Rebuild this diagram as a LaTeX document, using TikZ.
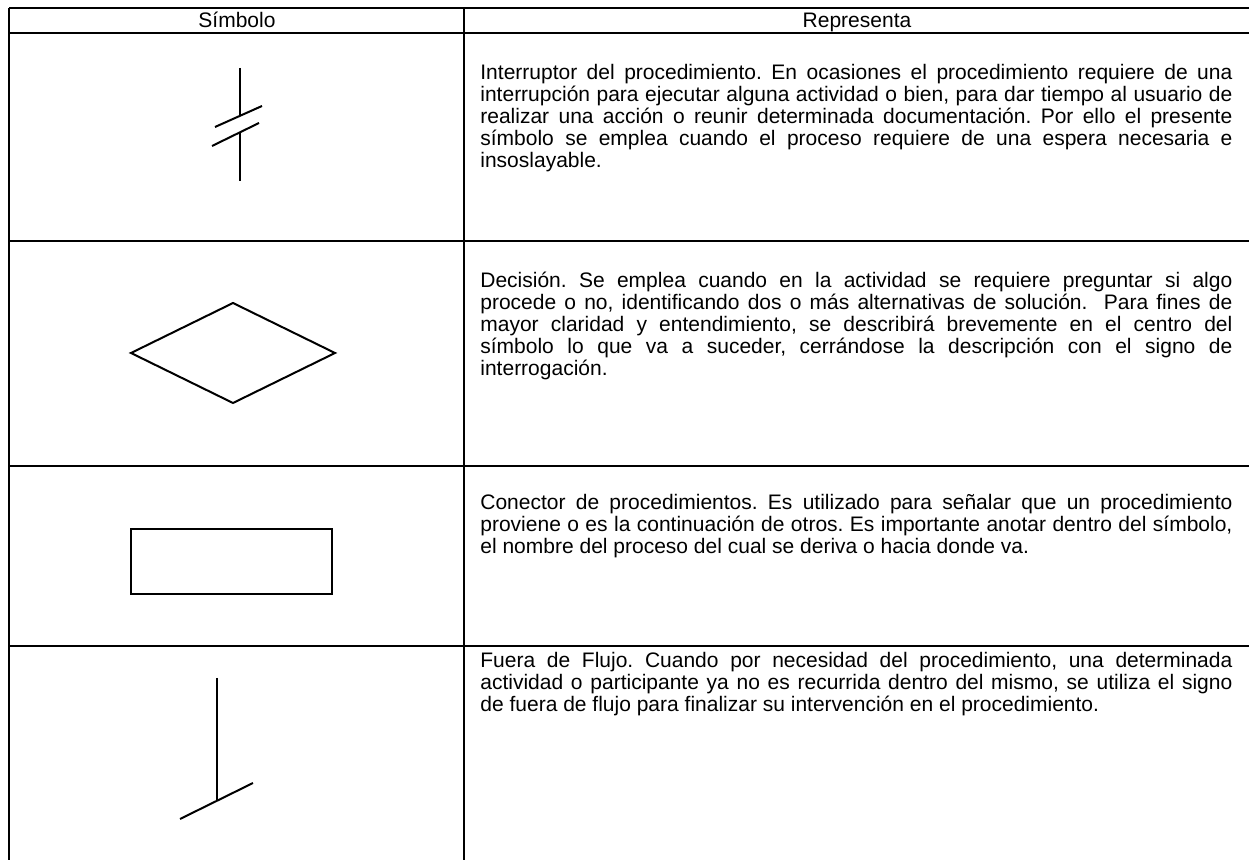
\documentclass[tikz,border=0pt]{standalone}
\usepackage{fontspec}
\setmainfont{Liberation Sans}
\frenchspacing
\tolerance=9999
\hyphenpenalty=10000

\tikzstyle{rule} = [line width=1pt]
\tikzstyle{symbolline} = [line width=1pt]
\tikzstyle{headlabel} = [anchor=base,inner sep=0pt,font=\fontsize{10.5}{11}\selectfont]
\tikzstyle{desc} = [anchor=base west,inner sep=0pt,text width=376pt,align=justify,
  font=\fontsize{10.5}{11}\selectfont]

\begin{document}
\begin{tikzpicture}[x=0.5pt,y=-0.5pt]
		\useasboundingbox (0,0) rectangle (1249,860);
		% table rules
		\draw[rule] (9,8) -- (1249,8);
		\draw[rule] (9,33) -- (1249,33);
		\draw[rule] (9,241) -- (1249,241);
		\draw[rule] (9,466) -- (1249,466);
		\draw[rule] (9,646) -- (1249,646);
		\draw[rule] (9,8) -- (9,860);
		\draw[rule] (464,8) -- (464,860);
		% header
		\node[headlabel] (hsym) at (237,28) {Símbolo};
		\node[headlabel] (hrep) at (857,28) {Representa};
		% interruptor
		\draw[symbolline] (240,68) -- (240,116);
		\draw[symbolline] (215,127) -- (262,106);
		\draw[symbolline] (212,146) -- (259,123);
		\draw[symbolline] (240,132) -- (240,181);
		% decision
		\draw[symbolline] (131,353) -- (233,303) -- (335,353) -- (233,403) -- cycle;
		% conector
		\draw[symbolline,line width=1.3pt] (131,529) rectangle (332,594);
		% fuera de flujo
		\draw[symbolline] (217,678) -- (217,800);
		\draw[symbolline] (180,819) -- (253,783);
		% descriptions
		\node[desc] (dint) at (480,80) {Interruptor del procedimiento. En ocasiones el procedimiento requiere de una\linebreak
			interrupción para ejecutar alguna actividad o bien, para dar tiempo al usuario de\linebreak
			realizar una acción o reunir determinada documentación. Por ello el presente\linebreak
			símbolo se emplea cuando el proceso requiere de una espera necesaria e\linebreak
			insoslayable.};
		\node[desc] (ddec) at (480,288) {Decisión. Se emplea cuando en la actividad se requiere preguntar si algo\linebreak
			procede o no, identificando dos o más alternativas de solución.\ \ Para fines de\linebreak
			mayor claridad y entendimiento, se describirá brevemente en el centro del\linebreak
			símbolo lo que va a suceder, cerrándose la descripción con el signo de\linebreak
			interrogación.};
		\node[desc] (dcon) at (480,510) {Conector de procedimientos. Es utilizado para señalar que un procedimiento\linebreak
			proviene o es la continuación de otros. Es importante anotar dentro del símbolo,\linebreak
			el nombre del proceso del cual se deriva o hacia donde va.};
		\node[desc] (dfue) at (480,668) {Fuera de Flujo. Cuando por necesidad del procedimiento, una determinada\linebreak
			actividad o participante ya no es recurrida dentro del mismo, se utiliza el signo\linebreak
			de fuera de flujo para finalizar su intervención en el procedimiento.};
		\end{tikzpicture}
\end{document}
